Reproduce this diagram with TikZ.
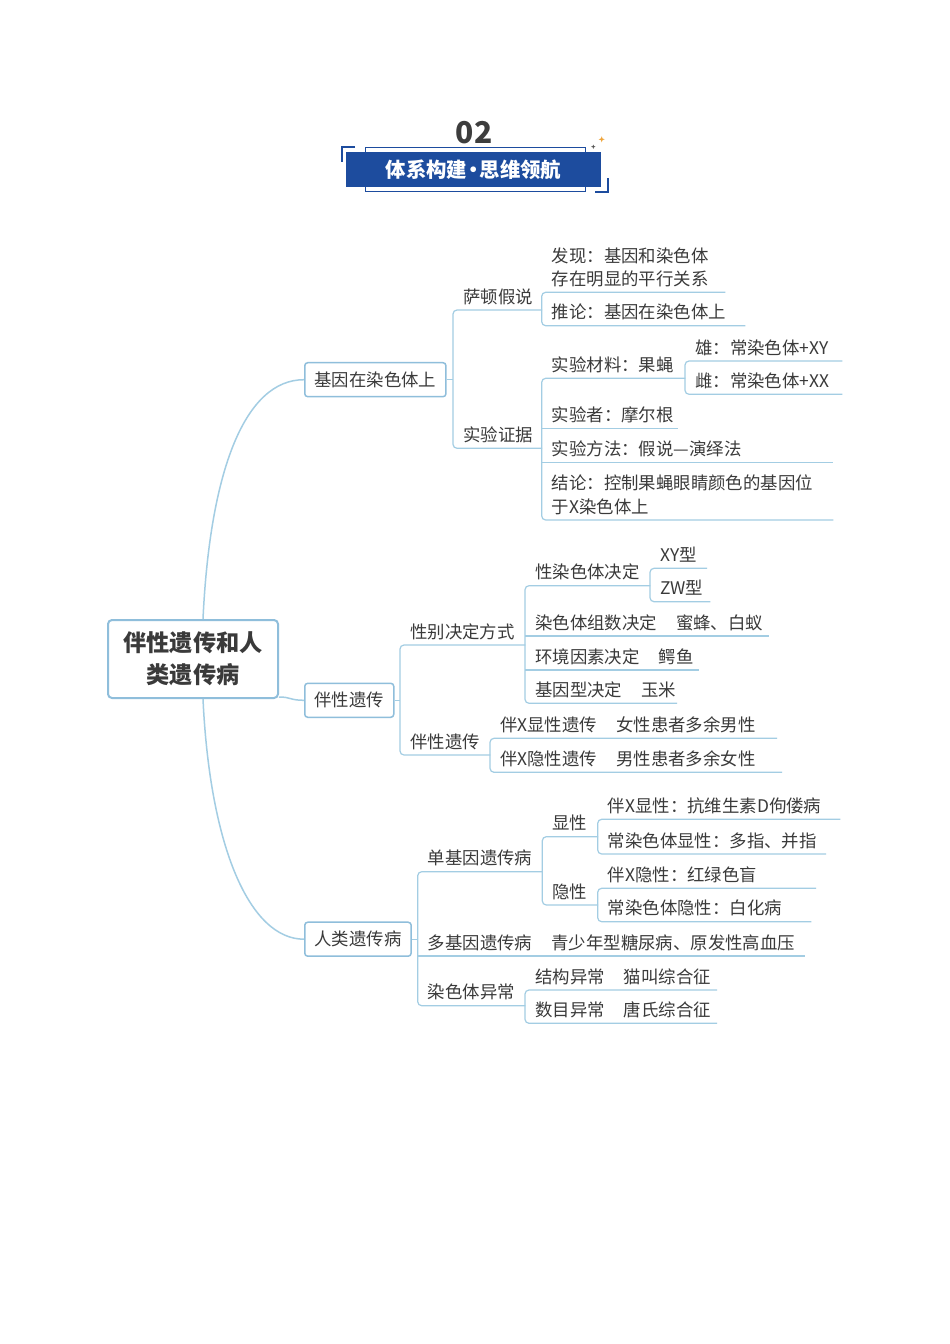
\documentclass[tikz,border=0pt]{standalone}
\usepackage{fontspec}
\setmainfont{Noto Sans CJK SC}
\usetikzlibrary{calc}
\definecolor{txt}{HTML}{3A3A3A}
\definecolor{lnk}{HTML}{A3CDE3}
\definecolor{bdr}{HTML}{8FBEDB}
\definecolor{navy}{HTML}{1D4C9E}
\definecolor{gold}{HTML}{EFA43A}
\definecolor{ttl}{HTML}{3D3D3D}
\definecolor{stardk}{HTML}{555555}
\newcommand\tstr{\rule[-0.12em]{0pt}{1em}}
\newcommand\tpad{\hspace*{10pt}\tstr}
\newcommand\tgap{\kern1.1em}
\begin{document}
\begin{tikzpicture}[x=1pt,y=-1pt,
  tfont/.style={font=\fontsize{17.4}{23.4}\selectfont},
  topic/.style={tfont, anchor=south west, inner xsep=0pt, inner ysep=4.6pt, text width=#1, align=left, text=txt},
  lvl/.style={tfont, draw=bdr, line width=1.5pt, rounded corners=3pt, fill=white, inner xsep=9.7pt, inner ysep=0pt, minimum height=34pt, text=txt, anchor=west},
  mainbox/.style={font=\fontsize{23.2}{32}\selectfont\bfseries, draw=bdr, line width=2pt, rounded corners=4pt, fill=white, align=center, minimum width=170pt, minimum height=78pt, text=txt},
  conn/.style={draw=lnk, line width=1.2pt, rounded corners=4pt},
  curve/.style={draw=lnk, line width=1.5pt},
  banner/.style={fill=navy, minimum width=255.7pt, minimum height=34.7pt, inner sep=0pt, text=white, font=\fontsize{20.4}{20.4}\selectfont\bfseries},
]
\useasboundingbox[fill=white] (0,0) rectangle (950,1344);

% ---------- title ----------
\node[font=\fontsize{30}{30}\selectfont\bfseries, text=ttl, anchor=base, inner sep=0pt] (num) at (474,143.3) {02};
\draw[navy, line width=0.8pt] (365.7,147.7) rectangle (585,191.7);
\node[banner] (ban) at (473.5,169.35) {\tstr 体系构建\kern-0.2em·\kern-0.2em 思维领航};
\draw[navy, line width=1.8pt] (355,146.7) -- (341.7,146.7) -- (341.7,161.7);
\draw[navy, line width=1.8pt] (608.3,178.3) -- (608.3,191.7) -- (595,191.7);
\fill[gold] (601.7,139.3) +(0,-3) -- +(0.8,-0.8) -- +(3,0) -- +(0.8,0.8) -- +(0,3) -- +(-0.8,0.8) -- +(-3,0) -- +(-0.8,-0.8) -- cycle;
\fill[stardk] (593.3,146.7) +(0,-2.2) -- +(0.6,-0.6) -- +(2.2,0) -- +(0.6,0.6) -- +(0,2.2) -- +(-0.6,0.6) -- +(-2.2,0) -- +(-0.6,-0.6) -- cycle;

% ---------- central and level-1 ----------
\node[mainbox] (main) at (193,659) {\tstr 伴性遗传和人\\\tstr 类遗传病};
\node[lvl] (b1) at (304,379.7) {\tstr 基因在染色体上};
\node[lvl] (b2) at (304,700.3) {\tstr 伴性遗传};
\node[lvl] (b3) at (304,939.2) {\tstr 人类遗传病};

\draw[curve] ($(main.north)+(10,0)$) .. controls (210,470) and (245,379.7) .. (b1.west);
\draw[curve] ($(main.south east)+(0,-2)$) .. controls (291,697) and (290,700.3) .. (b2.west);
\draw[curve] ($(main.south)+(10,0)$) .. controls (210,848) and (250,939.2) .. (b3.west);

% ---------- branch 1 ----------
\node[topic=88.7pt] (s1a) at (453,310) {\tpad 萨顿假说};
\node[topic=88.7pt] (s1b) at (453,448.3) {\tpad 实验证据};
\node[topic=183.3pt] (s1a1) at (541.7,292.3) {\tpad 发现：基因和染色体\\\tpad 存在明显的平行关系};
\node[topic=203.3pt] (s1a2) at (541.7,325.7) {\tpad 推论：基因在染色体上};
\node[topic=143.3pt] (s1b1) at (541.7,378.3) {\tpad 实验材料：果蝇};
\node[topic=136.3pt] (s1b2) at (541.7,428.3) {\tpad 实验者：摩尔根};
\node[topic=291.3pt] (s1b3) at (541.7,462.7) {\tpad 实验方法：假说—演绎法};
\node[topic=291.3pt] (s1b4) at (541.7,520) {\tpad 结论：控制果蝇眼睛颜色的基因位\\\tpad 于X染色体上};
\node[topic=157pt] (s1b1a) at (685,361) {\tpad 雄：常染色体+XY};
\node[topic=157pt] (s1b1b) at (685,394.3) {\tpad 雌：常染色体+XX};

\draw[conn] (b1.east) -- (b1.east -| s1a.south west);
\draw[conn] (s1a.south east) -- (s1a.south west) -- (s1b.south west) -- (s1b.south east);
\draw[conn] (s1a1.south east) -- (s1a1.south west) -- (s1a2.south west) -- (s1a2.south east);
\draw[conn] (s1b1.south east) -- (s1b1.south west) -- (s1b4.south west) -- (s1b4.south east);
\draw[conn] (s1b2.south west) -- (s1b2.south east);
\draw[conn] (s1b3.south west) -- (s1b3.south east);
\draw[conn] (s1b1a.south east) -- (s1b1a.south west) -- (s1b1b.south west) -- (s1b1b.south east);

% ---------- branch 2 ----------
\node[topic=125pt] (s2a) at (400,645) {\tpad 性别决定方式};
\node[topic=90pt] (s2b) at (400,755) {\tpad 伴性遗传};
\node[topic=125pt] (s2a1) at (525,585.7) {\tpad 性染色体决定};
\node[topic=243.3pt] (s2a2) at (525,636) {\tpad 染色体组数决定\tgap 蜜蜂、白蚁};
\node[topic=173.3pt] (s2a3) at (525,670) {\tpad 环境因素决定\tgap 鳄鱼};
\node[topic=151.7pt] (s2a4) at (525,703.3) {\tpad 基因型决定\tgap 玉米};
\node[topic=56.7pt] (s2a1a) at (650,568.3) {\tpad XY型};
\node[topic=60pt] (s2a1b) at (650,601.7) {\tpad ZW型};
\node[topic=286.7pt] (s2b1) at (490,738.3) {\tpad 伴X显性遗传\tgap 女性患者多余男性};
\node[topic=291.7pt] (s2b2) at (490,772.3) {\tpad 伴X隐性遗传\tgap 男性患者多余女性};

\draw[conn] (b2.east) -- (b2.east -| s2a.south west);
\draw[conn] (s2a.south east) -- (s2a.south west) -- (s2b.south west) -- (s2b.south east);
\draw[conn] (s2a1.south east) -- (s2a1.south west) -- (s2a4.south west) -- (s2a4.south east);
\draw[conn] (s2a2.south west) -- (s2a2.south east);
\draw[conn] (s2a3.south west) -- (s2a3.south east);
\draw[conn] (s2a1a.south east) -- (s2a1a.south west) -- (s2a1b.south west) -- (s2a1b.south east);
\draw[conn] (s2b1.south east) -- (s2b1.south west) -- (s2b2.south west) -- (s2b2.south east);

% ---------- branch 3 ----------
\node[topic=124.6pt] (s3a) at (417.7,871.7) {\tpad 单基因遗传病};
\node[topic=387.3pt] (s3b) at (417.7,956) {\tpad 多基因遗传病\tgap 青少年型糖尿病、原发性高血压};
\node[topic=107.3pt] (s3c) at (417.7,1005.7) {\tpad 染色体异常};
\node[topic=55.4pt] (s3a1) at (542.3,836.7) {\tpad 显性};
\node[topic=55.4pt] (s3a2) at (542.3,905) {\tpad 隐性};
\node[topic=242.3pt] (s3a1a) at (597.7,819.3) {\tpad 伴X显性：抗维生素D佝偻病};
\node[topic=228pt] (s3a1b) at (597.7,854) {\tpad 常染色体显性：多指、并指};
\node[topic=218pt] (s3a2a) at (597.7,888.3) {\tpad 伴X隐性：红绿色盲};
\node[topic=213.3pt] (s3a2b) at (597.7,921.7) {\tpad 常染色体隐性：白化病};
\node[topic=191.7pt] (s3c1) at (525,990) {\tpad 结构异常\tgap 猫叫综合征};
\node[topic=191.7pt] (s3c2) at (525,1023.3) {\tpad 数目异常\tgap 唐氏综合征};

\draw[conn] (b3.east) -- (b3.east -| s3a.south west);
\draw[conn] (s3a.south east) -- (s3a.south west) -- (s3c.south west) -- (s3c.south east);
\draw[conn] (s3b.south west) -- (s3b.south east);
\draw[conn] (s3a1.south east) -- (s3a1.south west) -- (s3a2.south west) -- (s3a2.south east);
\draw[conn] (s3a1a.south east) -- (s3a1a.south west) -- (s3a1b.south west) -- (s3a1b.south east);
\draw[conn] (s3a2a.south east) -- (s3a2a.south west) -- (s3a2b.south west) -- (s3a2b.south east);
\draw[conn] (s3c1.south east) -- (s3c1.south west) -- (s3c2.south west) -- (s3c2.south east);
\end{tikzpicture}
\end{document}
